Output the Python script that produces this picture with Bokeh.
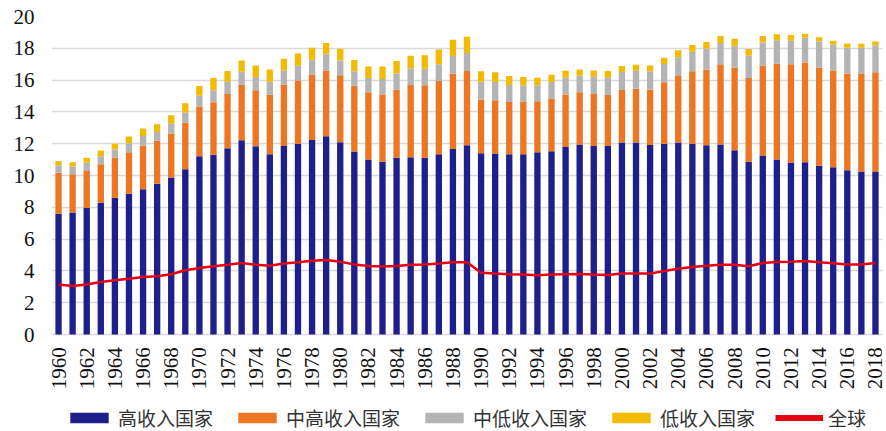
from bokeh.plotting import figure
from bokeh.models import Legend, LegendItem, FixedTicker, Range1d, ColumnDataSource
from bokeh.core.properties import value
from bokeh.embed import file_html
from bokeh.resources import INLINE
import math

years = list(range(1960, 2019))
high = [7.60, 7.68, 7.95, 8.28, 8.60, 8.85, 9.14, 9.48, 9.87, 10.40,
        11.21, 11.30, 11.72, 12.22, 11.84, 11.34, 11.86, 12.00, 12.24, 12.47,
        12.09, 11.51, 11.00, 10.86, 11.11, 11.15, 11.11, 11.34, 11.67, 11.90,
        11.40, 11.38, 11.34, 11.34, 11.46, 11.53, 11.80, 11.95, 11.86, 11.86,
        12.07, 12.07, 11.92, 12.00, 12.07, 12.00, 11.90, 11.95, 11.59, 10.86,
        11.26, 11.00, 10.82, 10.84, 10.61, 10.52, 10.33, 10.25, 10.25]
upper_mid = [2.57, 2.40, 2.34, 2.43, 2.51, 2.61, 2.74, 2.70, 2.77, 2.91,
             3.12, 3.30, 3.41, 3.49, 3.52, 3.74, 3.87, 3.98, 4.12, 4.14,
             4.21, 4.14, 4.23, 4.24, 4.29, 4.54, 4.56, 4.60, 4.73, 4.67,
             3.37, 3.35, 3.28, 3.28, 3.21, 3.32, 3.30, 3.28, 3.27, 3.22,
             3.31, 3.39, 3.48, 3.86, 4.19, 4.55, 4.75, 5.04, 5.21, 5.27,
             5.66, 6.03, 6.17, 6.27, 6.19, 6.09, 6.09, 6.13, 6.24]
lower_mid = [0.48, 0.48, 0.53, 0.50, 0.52, 0.57, 0.61, 0.56, 0.62, 0.66,
             0.69, 0.76, 0.77, 0.82, 0.83, 0.82, 0.88, 0.92, 0.92, 1.01,
             0.94, 0.90, 0.90, 0.97, 1.02, 1.05, 1.05, 1.06, 1.11, 1.13,
             1.13, 1.15, 1.07, 1.05, 1.00, 1.03, 1.05, 1.05, 1.08, 1.07,
             1.13, 1.13, 1.15, 1.15, 1.17, 1.23, 1.34, 1.34, 1.36, 1.40,
             1.45, 1.48, 1.48, 1.55, 1.63, 1.63, 1.61, 1.65, 1.69]
low = [0.27, 0.28, 0.29, 0.36, 0.36, 0.42, 0.46, 0.48, 0.53, 0.57,
       0.61, 0.77, 0.67, 0.71, 0.73, 0.77, 0.73, 0.78, 0.75, 0.71,
       0.73, 0.71, 0.73, 0.79, 0.78, 0.79, 0.85, 0.93, 1.03, 1.02,
       0.65, 0.61, 0.57, 0.52, 0.48, 0.46, 0.44, 0.39, 0.40, 0.42,
       0.37, 0.38, 0.37, 0.40, 0.44, 0.42, 0.40, 0.44, 0.44, 0.42,
       0.40, 0.38, 0.36, 0.25, 0.27, 0.23, 0.27, 0.25, 0.25]
world = [3.14, 3.05, 3.14, 3.30, 3.41, 3.51, 3.62, 3.66, 3.79, 4.04,
         4.18, 4.29, 4.39, 4.50, 4.39, 4.33, 4.46, 4.54, 4.64, 4.69,
         4.58, 4.41, 4.31, 4.27, 4.31, 4.39, 4.41, 4.46, 4.54, 4.54,
         3.89, 3.83, 3.79, 3.77, 3.72, 3.77, 3.79, 3.81, 3.77, 3.75,
         3.83, 3.83, 3.83, 4.00, 4.14, 4.25, 4.33, 4.39, 4.39, 4.29,
         4.50, 4.56, 4.58, 4.62, 4.54, 4.48, 4.41, 4.41, 4.50]

series_names = ["高收入国家", "中高收入国家", "中低收入国家", "低收入国家"]
series_keys = ["high", "upper_mid", "lower_mid", "low"]
colors = ["#1F1F8C", "#EE7522", "#B4B4B4", "#F2BA00"]
world_name = "全球"
world_color = "#E60012"
y_ticks = list(range(0, 21, 2))
x_ticks = list(range(1960, 2019, 2))
x_tick_labels = [str(t) for t in x_ticks]

source = ColumnDataSource(dict(year=years, high=high, upper_mid=upper_mid,
                               lower_mid=lower_mid, low=low, world=world))

# frame covers the whole lower area; the value axis runs 0..20,
# the space below 0 holds the rotated year labels and the legend
p = figure(width=886, height=431, output_backend="svg", toolbar_location=None,
           x_range=Range1d(1959.5, 2018.5), y_range=Range1d(-6.1, 20),
           min_border_left=51, min_border_right=4, min_border_top=16,
           min_border_bottom=0)
p.outline_line_color = None
p.background_fill_color = "white"
p.border_fill_color = "white"

bars = p.vbar_stack(series_keys, x="year", width=0.45, source=source,
                    color=colors, line_color=None)
ln = p.line(x="year", y="world", source=source, line_color=world_color, line_width=2.5)
nan = float("nan")
dummy = p.line(x=[nan, nan], y=[nan, nan], line_color=world_color, line_width=6)

# year labels (rotated, reading bottom-to-top)
lab_src = ColumnDataSource(dict(x=x_ticks, y=[-0.8] * len(x_ticks), t=x_tick_labels))
p.text(x="x", y="y", text="t", source=lab_src, angle=math.pi / 2,
       text_align="right", text_baseline="middle",
       text_font=value("Liberation Serif"), text_font_size="21px", text_color="#111111")

# grid
p.xgrid.grid_line_color = None
p.ygrid.grid_line_color = "#D9D9D9"
p.ygrid.grid_line_width = 1.5
p.ygrid.ticker = FixedTicker(ticks=y_ticks)

# axes
p.xaxis.visible = False
p.yaxis.ticker = FixedTicker(ticks=y_ticks)
p.yaxis.axis_line_color = None
p.yaxis.major_tick_line_color = None
p.yaxis.minor_tick_line_color = None
p.yaxis.major_tick_out = 0
p.yaxis.major_tick_in = 0
p.yaxis.major_label_text_font = "Liberation Serif"
p.yaxis.major_label_text_font_size = "21px"
p.yaxis.major_label_text_color = "#111111"
p.yaxis.major_label_standoff = 17

items = [LegendItem(label=n, renderers=[r]) for n, r in zip(series_names, bars)]
items.append(LegendItem(label=world_name, renderers=[dummy]))
legend = Legend(items=items, orientation="horizontal", location=(14, 0),
                glyph_width=48, glyph_height=13, label_standoff=5, spacing=20,
                label_text_font="Noto Sans CJK SC", label_text_font_size="19px",
                label_text_color="#333333", border_line_color=None,
                background_fill_alpha=0, padding=0, margin=0)
p.add_layout(legend, "center")

open("out.html", "w").write(file_html(p, INLINE))
